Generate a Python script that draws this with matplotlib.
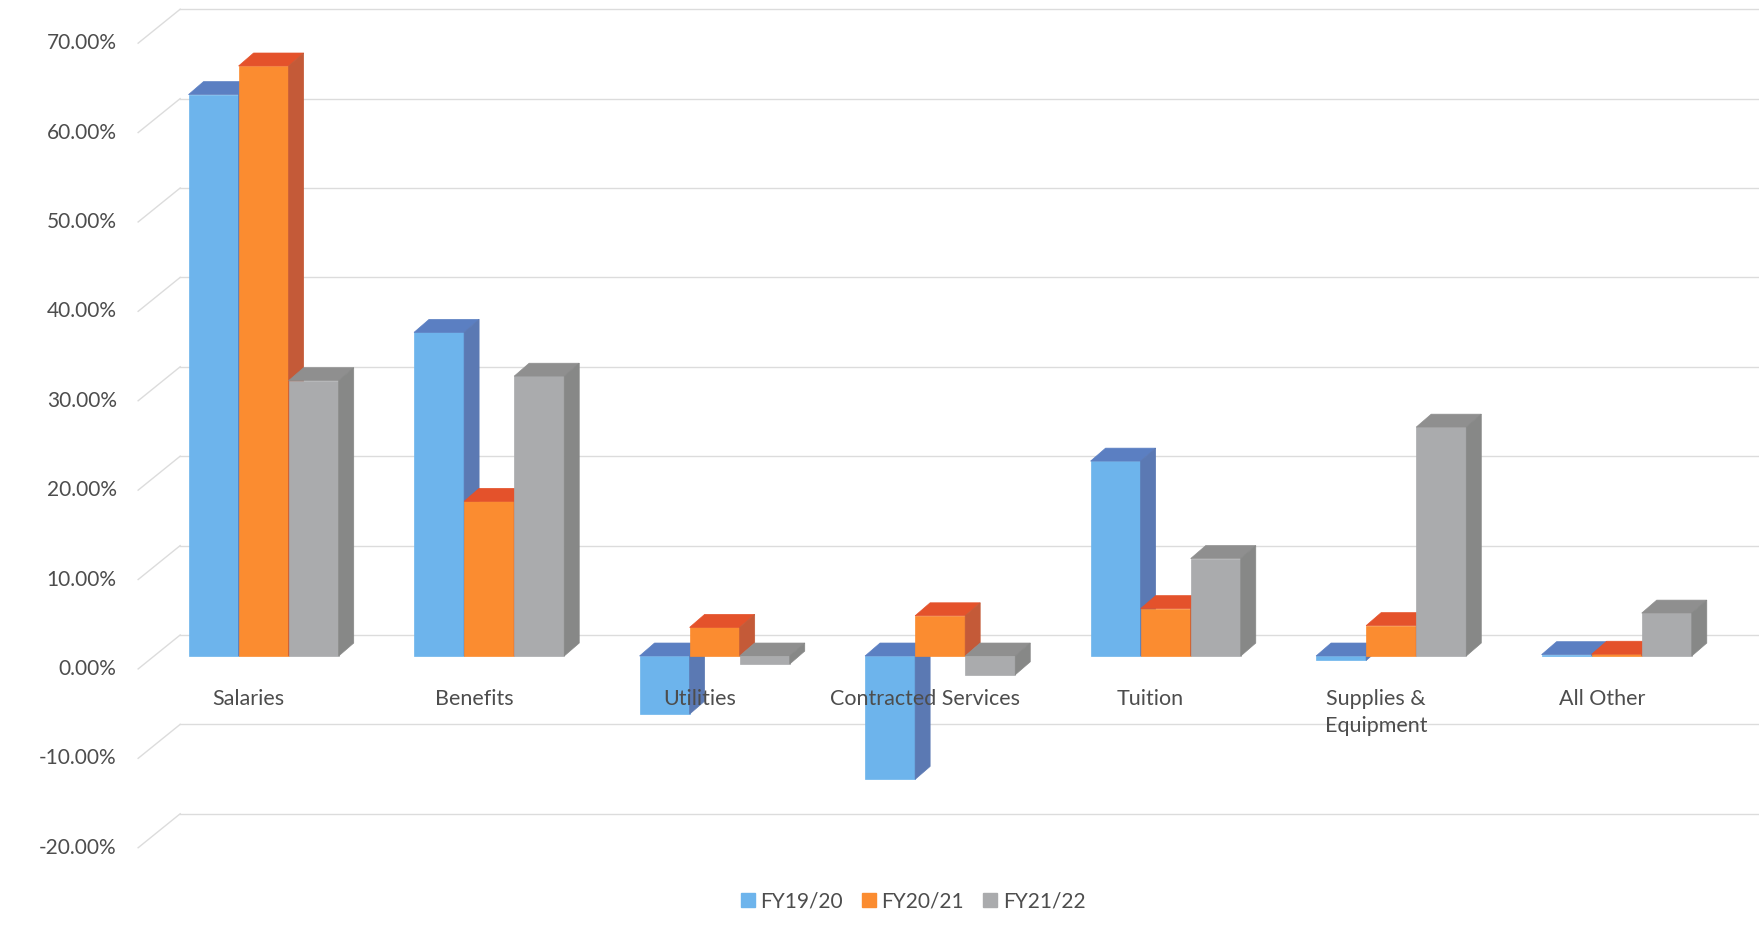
import numpy as np
import matplotlib.pyplot as plt
from matplotlib.patches import Polygon
from matplotlib.lines import Line2D

plt.rcParams['font.family'] = ['Lato', 'DejaVu Sans']

# data (percent)
categories = ['Salaries', 'Benefits', 'Utilities', 'Contracted Services',
              'Tuition', 'Supplies &\nEquipment', 'All Other']
series = ['FY19/20', 'FY20/21', 'FY21/22']
fy1920 = [62.8, 36.2, -6.5, -13.8, 21.8, -0.5, 0.15]
fy2021 = [66.0, 17.3, 3.2, 4.5, 5.3, 3.4, 0.2]
fy2122 = [30.8, 31.3, -0.9, -2.1, 10.9, 25.6, 4.8]
yticks = [-20, -10, 0, 10, 20, 30, 40, 50, 60, 70]

front_col = ['#6db4ec', '#fb8c30', '#aaabad']
top_col = ['#5b7fc2', '#e4522b', '#8f8f8f']
side_col = ['#5b79b3', '#c45a38', '#878887']
grid_col = '#dcdcdc'
text_col = '#4d4d4d'

# fake 3d geometry (data units)
w = 0.222            # bar width
ddx, ddy = 0.0665, 1.45     # bar depth
fdx, fdy = -0.0665, -1.45   # front edge of floor
bdx, bdy = 0.12, 2.35       # back wall
left, right = -0.49, 6.8

fig = plt.figure(figsize=(17.59, 9.40), dpi=100)
ax = fig.add_axes([0, 0, 1, 1])
ax.set_xlim(-1.169, 6.631)
ax.set_ylim(-31.77, 73.38)
ax.axis('off')

# gridlines: slant on the side wall + line on the back wall
for t in yticks:
    ax.plot([left + fdx, left + bdx], [t + fdy, t + bdy], color=grid_col, lw=1.0, zorder=1)
    ax.plot([left + bdx, right], [t + bdy, t + bdy], color=grid_col, lw=1.0, zorder=1)
    ax.text(left + fdx - 0.095, t + fdy, f'{t:.2f}%', ha='right', va='center',
            fontsize=15, color=text_col)

x = np.arange(len(categories))
z = 2
for i in x:
    for k, vals in enumerate([fy1920, fy2021, fy2122]):
        v = vals[i]
        xc = i + (k - 1) * w
        lo, hi = min(v, 0), max(v, 0)
        x0, x1 = xc - w / 2, xc + w / 2
        ax.bar(xc, hi - lo, bottom=lo, width=w, color=front_col[k],
               edgecolor=front_col[k], lw=0.5, zorder=z)
        ax.add_patch(Polygon([(x0, hi), (x1, hi), (x1 + ddx, hi + ddy), (x0 + ddx, hi + ddy)],
                             closed=True, fc=top_col[k], ec=top_col[k], lw=0.5, zorder=z + 1))
        ax.add_patch(Polygon([(x1, lo), (x1 + ddx, lo + ddy), (x1 + ddx, hi + ddy), (x1, hi)],
                             closed=True, fc=side_col[k], ec=side_col[k], lw=0.5, zorder=z + 1))
        z += 2

for i, c in enumerate(categories):
    ax.text(i + fdx, -3.7, c, ha='center', va='top', fontsize=15.5, color=text_col,
            linespacing=1.45, zorder=100)

handles = [Line2D([], [], marker='s', ls='', color=front_col[k], markersize=10, label=s)
           for k, s in enumerate(series)]
ax.legend(handles=handles, loc='center', bbox_to_anchor=(0.519, 0.041), ncol=3,
          frameon=False, fontsize=15, handlelength=0.7, handletextpad=0.25,
          columnspacing=0.9, labelcolor=text_col)

fig.savefig('out.png', dpi=100)
